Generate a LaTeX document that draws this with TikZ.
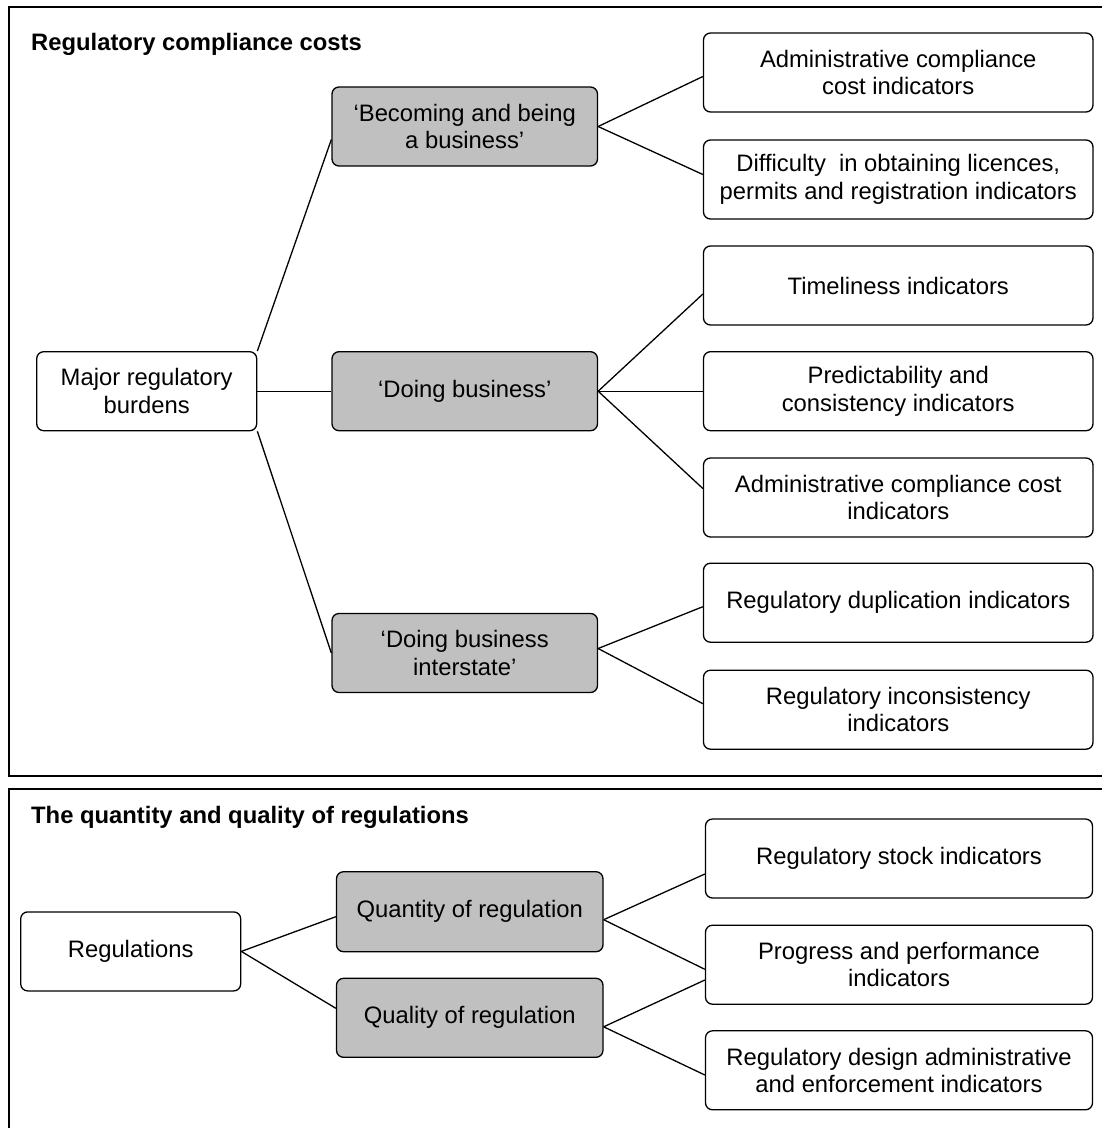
\documentclass[tikz,border=0pt]{standalone}
\usepackage{fontspec}
\setmainfont{Liberation Sans}
\definecolor{boxgray}{HTML}{C0C0C0}
\begin{document}
\begin{tikzpicture}[x=1pt,y=-1pt,
  box/.style={draw=black, line width=1.3pt, rounded corners=7pt, inner sep=0pt,
    align=center, font=\fontsize{23.8}{27.5}\selectfont, minimum height=79pt},
  wbox/.style={box, fill=white},
  gbox/.style={box, fill=boxgray},
  link/.style={line width=1.3pt},
  panel/.style={line width=2pt},
  ttl/.style={anchor=base west, inner sep=0pt, font=\bfseries\fontsize{23.8}{27.5}\selectfont}]
\useasboundingbox (0,0) rectangle (1102,1128);
\clip (0,0) rectangle (1102,1128);
\fill[white] (0,0) rectangle (1102,1128);

% panels
\draw[panel] (9,7) rectangle (1130,776);
\draw[panel] (9,789) rectangle (1130,1150);

% titles
\node[ttl] (t1) at (31,50.5) {Regulatory compliance costs};
\node[ttl] (t2) at (31,823.5) {The quantity and quality of regulations};

% top panel nodes
\node[wbox, minimum width=220pt] (maj) at (146.7,391.2) {Major regulatory\\burdens};
\node[gbox, minimum width=265.5pt] (b1) at (464.75,126.5) {‘Becoming and being\\a business’};
\node[gbox, minimum width=265.5pt] (b2) at (464.75,391.2) {‘Doing business’};
\node[gbox, minimum width=265.5pt] (b3) at (464.75,653) {‘Doing business\\interstate’};

\node[wbox, minimum width=389.5pt] (r1) at (898.25,72.5) {Administrative compliance\\cost indicators};
\node[wbox, minimum width=389.5pt] (r2) at (898.25,179.5) {Difficulty\ \ in obtaining licences,\\permits and registration indicators};
\node[wbox, minimum width=389.5pt] (r3) at (898.25,285.5) {Timeliness indicators};
\node[wbox, minimum width=389.5pt] (r4) at (898.25,391.2) {Predictability and\\consistency indicators};
\node[wbox, minimum width=389.5pt] (r5) at (898.25,497.5) {Administrative compliance cost\\indicators};
\node[wbox, minimum width=389.5pt] (r6) at (898.25,602.7) {Regulatory duplication indicators};
\node[wbox, minimum width=389.5pt] (r7) at (898.25,709.7) {Regulatory inconsistency\\indicators};

% bottom panel nodes
\node[wbox, minimum width=220pt] (reg) at (130.7,951.4) {Regulations};
\node[gbox, minimum width=266.5pt, minimum height=80pt] (qn) at (469.75,911.7) {Quantity of regulation};
\node[gbox, minimum width=266.5pt] (ql) at (469.75,1017.8) {Quality of regulation};
\node[wbox, minimum width=387pt] (s1) at (899,858.5) {Regulatory stock indicators};
\node[wbox, minimum width=387pt] (s2) at (899,964.7) {Progress and performance\\indicators};
\node[wbox, minimum width=387pt] (s3) at (899,1070.3) {Regulatory design administrative\\and enforcement indicators};

% connectors top
\draw[link] (maj.north east) -- ([yshift=-13pt]b1.west);
\draw[link] (maj.east) -- (b2.west);
\draw[link] (maj.south east) -- (b3.west);
\draw[link] (b1.east) -- ([yshift=-4pt]r1.west);
\draw[link] (b1.east) -- ([yshift=5pt]r2.west);
\draw[link] (b2.east) -- ([yshift=-8.5pt]r3.west);
\draw[link] (b2.east) -- (r4.west);
\draw[link] (b2.east) -- ([yshift=9pt]r5.west);
\draw[link] ([yshift=4.5pt]b3.east) -- ([yshift=-4pt]r6.west);
\draw[link] ([yshift=4.5pt]b3.east) -- ([yshift=6pt]r7.west);

% connectors bottom
\draw[link] (reg.east) -- ([yshift=-5pt]qn.west);
\draw[link] (reg.east) -- ([yshift=9.5pt]ql.west);
\draw[link] ([yshift=-8pt]qn.east) -- ([yshift=-15.5pt]s1.west);
\draw[link] ([yshift=-8pt]qn.east) -- ([yshift=-4.6pt]s2.west);
\draw[link] ([yshift=-9pt]ql.east) -- ([yshift=-15.3pt]s2.west);
\draw[link] ([yshift=-9pt]ql.east) -- ([yshift=-4.7pt]s3.west);
\end{tikzpicture}
\end{document}
